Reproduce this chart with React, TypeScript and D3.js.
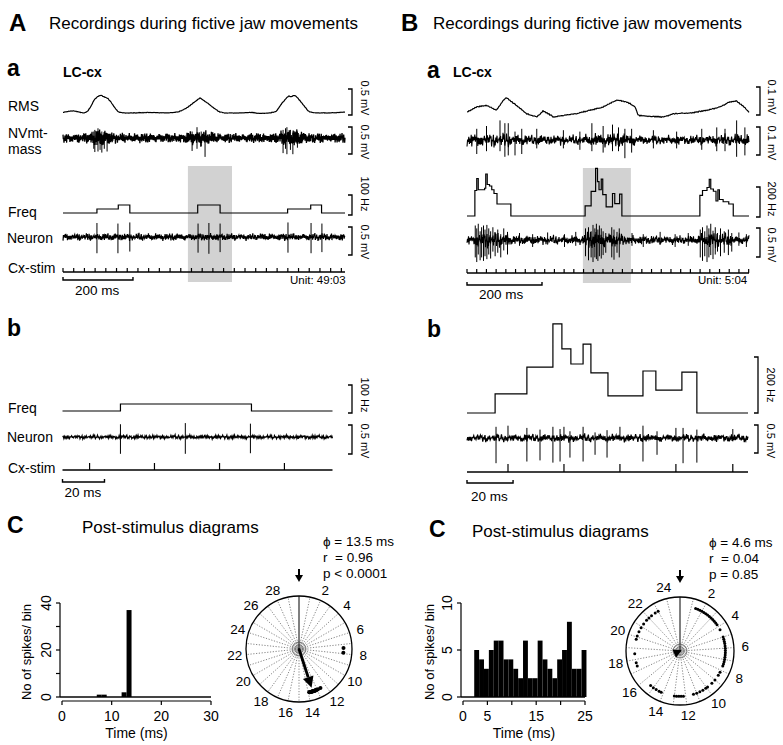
import React from 'react';
import * as d3 from 'd3';

const FONT = "'Liberation Sans', Arial, Helvetica, sans-serif";

type P = [number, number];
type Spike = [number, number, number]; // time (ms), top (mV), bottom (mV)

// ---------------- texture tables for recorded noise (hand-read amplitudes) ----------------
const noiseTableA = [0.8, -0.6, 0.3, -0.9, 0.5, -0.2, 0.95, -0.7, 0.1, -0.4, 0.7, -1, 0.35, -0.55, 0.6, -0.15, 0.9, -0.8, 0.2, -0.3, 0.75, -0.65, 0.45, -0.95, 0.05, -0.5, 0.85, -0.35, 0.55, -0.75, 0.25, -0.1, 1, -0.6, 0.4, -0.85, 0.15];
const noiseTableB = [0.3, 0.7, -0.5, -0.2, 0.9, -0.8, 0.1, 0.5, -0.6, -0.9, 0.4, 0.8, -0.3, 0.2, -0.7, 0.6, -0.1, -0.4, 0.95, -0.5, 0.3, -0.85, 0.55];

// ---------------- Panel A a (unit 49:03) ----------------
const aaDurationMs = 806;
const aaRms: P[] = [[0, 0.03], [15, 0.05], [30, 0.06], [45, 0.04], [60, 0.02], [70, 0.05], [80, 0.15], [90, 0.28], [100, 0.34], [108, 0.36], [118, 0.33], [128, 0.3], [138, 0.22], [148, 0.12], [158, 0.04], [175, 0.02], [200, 0.02], [250, 0.03], [300, 0.02], [330, 0.04], [350, 0.1], [370, 0.2], [385, 0.28], [392, 0.31], [400, 0.27], [415, 0.2], [430, 0.12], [445, 0.05], [460, 0.02], [500, 0.02], [540, 0.03], [560, 0.01], [590, 0.02], [610, 0.05], [625, 0.2], [638, 0.3], [645, 0.35], [652, 0.33], [660, 0.36], [668, 0.33], [678, 0.25], [690, 0.15], [702, 0.05], [720, 0.02], [760, 0.02], [790, 0.03], [806, 0.04]];
const aaNvEnv: P[] = [[0, 0.1], [60, 0.1], [75, 0.14], [95, 0.19], [120, 0.17], [150, 0.11], [170, 0.1], [340, 0.1], [360, 0.14], [390, 0.18], [420, 0.15], [450, 0.1], [600, 0.1], [620, 0.14], [650, 0.18], [680, 0.16], [700, 0.1], [806, 0.1]];
const aaNvSpikes: Spike[] = [[88, 0.12, -0.2], [91, 0.15, -0.26], [100, 0.18, -0.25], [106, 0.1, -0.22], [111, 0.12, -0.27], [118, 0.1, -0.2], [126, 0.08, -0.25], [369, 0.12, -0.24], [383, 0.2, -0.2], [395, 0.12, -0.15], [406, 0.1, -0.35], [629, 0.15, -0.28], [636, 0.18, -0.2], [640, 0.2, -0.3], [650, 0.15, -0.22], [657, 0.1, -0.3], [670, 0.12, -0.18]];
const aaFreq: P[] = [[0, 0], [97, 20], [158, 40], [191, 0], [385, 40], [449, 0], [642, 20], [708, 40], [739, 0], [806, 0]];
const aaNeuronEnv: P[] = [[0, 0.075], [806, 0.075]];
const aaNeuronSpikes: Spike[] = [[97, 0.25, -0.29], [157, 0.24, -0.29], [191, 0.26, -0.26], [386, 0.24, -0.28], [417, 0.25, -0.3], [449, 0.24, -0.27], [643, 0.26, -0.28], [709, 0.25, -0.29], [740, 0.24, -0.27]];
const aaStimPeriodMs = 30.6;
const aaShade: P = [357, 483];

// ---------------- Panel B a (unit 5:04) ----------------
const baDurationMs = 752;
const baRms: P[] = [[1, 0.018], [26, 0.036], [52, 0.042], [79, 0.024], [97, 0.06], [106, 0.069], [119, 0.054], [137, 0.036], [159, 0.012], [186, 0], [203, 0.021], [217, 0.012], [230, 0], [257, 0.006], [292, 0.012], [328, 0.024], [363, 0.036], [381, 0.048], [399, 0.06], [417, 0.057], [435, 0.048], [448, 0.036], [457, 0.006], [488, 0.002], [524, 0], [550, 0.012], [595, 0.014], [639, 0.024], [675, 0.036], [701, 0.054], [719, 0.057], [737, 0.038], [752, 0.018]];
const baNvEnv: P[] = [[0, 0.026], [40, 0.03], [110, 0.03], [160, 0.022], [300, 0.02], [330, 0.028], [440, 0.028], [470, 0.019], [600, 0.02], [700, 0.028], [752, 0.025]];
const baNvSpikes: Spike[] = [[26, 0.04, -0.05], [52, 0.05, -0.04], [88, 0.07, -0.04], [101, 0.06, -0.06], [110, 0.06, -0.055], [128, 0.03, -0.055], [146, 0.04, -0.05], [186, 0.04, -0.03], [257, 0.035, -0.03], [301, 0.03, -0.035], [333, 0.06, -0.04], [363, 0.05, -0.045], [388, 0.055, -0.04], [404, 0.045, -0.04], [421, 0.04, -0.065], [439, 0.04, -0.045], [497, 0.035, -0.03], [559, 0.03, -0.03], [626, 0.04, -0.035], [666, 0.045, -0.04], [688, 0.04, -0.04], [719, 0.07, -0.06], [741, 0.045, -0.055]];
const baFreq: P[] = [[0, 0], [21, 170], [26, 250], [30, 175], [47, 185], [50, 280], [54, 210], [60, 200], [66, 175], [72, 150], [80, 80], [117, 0], [315, 68], [331, 164], [343, 318], [348, 229], [352, 175], [358, 246], [362, 143], [371, 61], [388, 150], [394, 82], [407, 146], [413, 0], [621, 138], [628, 170], [640, 190], [646, 245], [650, 180], [657, 165], [664, 100], [669, 175], [673, 110], [683, 95], [698, 80], [710, 0], [752, 0]];
const baNeuronEnv: P[] = [[0, 0.09], [18, 0.09], [25, 0.17], [110, 0.15], [120, 0.09], [310, 0.09], [318, 0.17], [410, 0.15], [418, 0.09], [618, 0.09], [625, 0.16], [708, 0.14], [716, 0.09], [752, 0.09]];
const baNeuronSpikes: Spike[] = [
  [22, 0.25, -0.3], [26, 0.2, -0.38], [30, 0.28, -0.25], [35, 0.15, -0.35], [39, 0.22, -0.3], [44, 0.25, -0.36], [48, 0.18, -0.28], [53, 0.26, -0.33], [58, 0.2, -0.25], [63, 0.15, -0.32], [69, 0.22, -0.2], [75, 0.12, -0.28], [82, 0.18, -0.22], [90, 0.1, -0.3], [98, 0.2, -0.18], [108, 0.14, -0.25],
  [316, 0.2, -0.28], [324, 0.22, -0.35], [331, 0.15, -0.3], [336, 0.26, -0.38], [341, 0.2, -0.3], [345, 0.28, -0.33], [349, 0.18, -0.36], [353, 0.25, -0.28], [358, 0.2, -0.32], [363, 0.15, -0.26], [370, 0.12, -0.22], [386, 0.22, -0.3], [392, 0.18, -0.34], [400, 0.14, -0.22], [406, 0.2, -0.3],
  [622, 0.18, -0.3], [628, 0.22, -0.36], [634, 0.15, -0.28], [640, 0.25, -0.38], [645, 0.2, -0.3], [650, 0.28, -0.26], [656, 0.16, -0.33], [662, 0.22, -0.25], [668, 0.12, -0.2], [676, 0.2, -0.28], [686, 0.15, -0.22], [697, 0.18, -0.26], [706, 0.12, -0.2],
  [140, 0.12, -0.1], [175, 0.1, -0.12], [215, 0.13, -0.08], [260, 0.1, -0.12], [290, 0.14, -0.1], [440, 0.12, -0.1], [470, 0.1, -0.12], [515, 0.14, -0.08], [555, 0.1, -0.12], [590, 0.12, -0.1], [725, 0.13, -0.1], [745, 0.1, -0.12]];
const baStimPeriodMs = 25.9;
const baShade: P = [309, 437];

// ---------------- Panel A b (expanded) ----------------
const abDurationMs = 128.6;
const abFreq: P[] = [[0, 0], [27.6, 25], [90, 0], [128.6, 0]];
const abNeuronEnv: P[] = [[0, 0.04], [128.6, 0.04]];
const abNeuronSpikes: Spike[] = [[27.6, 0.22, -0.29], [58.5, 0.24, -0.29], [89.5, 0.23, -0.28]];
const abStimTimes = [12.9, 43.8, 74.8, 105.7];

// ---------------- Panel B b (expanded) ----------------
const bbDurationMs = 122;
const bbFreq: P[] = [[0, 0], [12.2, 68], [26, 164], [37.3, 318], [41.2, 229], [45.1, 175], [50.4, 246], [53.8, 143], [61.2, 61], [76.4, 150], [82, 82], [93.3, 146], [99.8, 0], [122, 0]];
const bbNeuronEnv: P[] = [[0, 0.085], [122, 0.085]];
const bbNeuronSpikes: Spike[] = [[12.6, 0.2, -0.45], [26, 0.18, -0.42], [31.7, 0.15, -0.4], [37.3, 0.2, -0.44], [40.4, 0.16, -0.42], [44.7, 0.12, -0.35], [50.4, 0.2, -0.42], [55.6, 0.1, -0.3], [60.8, 0.14, -0.35], [76.4, 0.22, -0.42], [82.5, 0.12, -0.3], [93.8, 0.18, -0.45], [99.8, 0.15, -0.44], [17.8, 0.22, -0.05], [42.1, 0.2, -0.05], [66.4, 0.2, -0.05], [90.7, 0.18, -0.05], [115.4, 0.16, -0.06]];
const bbStimTimes = [17.8, 42.1, 66.4, 90.7, 115.4];

// ---------------- Panel C: post-stimulus histograms & phase plots ----------------
const histAStartMs = 0;
const histACounts = [0, 0, 0, 0, 0, 0, 0, 1, 1, 0, 0, 0, 2, 37, 0, 0, 0, 0, 0, 0, 0, 0, 0, 0, 0, 0, 0, 0, 0, 0];
const histAYTicks = [0, 10, 20, 30, 40];
const histAYLabels = [0, 20, 40];
const histAXTicks = [0, 10, 20, 30];
const histBStartMs = 2.3;
const histBCounts = [5, 4, 3, 5, 6, 6, 4, 4, 3, 2, 6, 2, 2, 6, 4, 3, 2, 4, 5, 8, 3, 3, 5];
const histBYTicks = [0, 5, 10];
const histBXTicks = [0, 5, 10, 15, 20, 25];
const histBXLabels = [0, 5, 15, 25];
const polarAPeriod = 30;
const polarALabels = [2, 4, 6, 8, 10, 12, 14, 16, 18, 20, 22, 24, 26, 28];
const polarAPhi = 13.5;
const polarAR = 0.96;
const polarADots = [7.4, 7.9, 12.6, 12.9, 13.05, 13.1, 13.15, 13.2, 13.25, 13.3, 13.35, 13.4, 13.45, 13.5, 13.55, 13.6, 13.65, 13.7, 13.75, 13.8, 13.85, 13.9];
const statsA = ['ϕ = 13.5 ms', 'r  = 0.96', 'p < 0.0001'];
const polarBPeriod = 25;
const polarBLabels = [2, 4, 6, 8, 10, 12, 14, 16, 18, 20, 22, 24];
const polarBPhi = 4.6;
const polarBR = 0.04;
const polarBDots = [1.4, 1.6, 1.8, 2.0, 2.2, 2.4, 2.6, 2.8, 3.0, 3.2, 3.4, 3.6, 3.8, 4.3, 5.0, 5.2, 5.4, 5.6, 5.8, 6.0, 6.2, 6.4, 6.6, 6.8, 7.0, 7.2, 7.4, 7.6, 8.2, 8.5, 9.0, 9.4, 9.9, 10.1, 10.4, 10.7, 11.0, 11.3, 12.2, 12.4, 12.6, 12.8, 13.0, 14.2, 14.4, 14.7, 15.0, 15.3, 17.4, 17.7, 18.5, 19.8, 20.1, 20.5, 20.9, 21.3, 21.7, 22.0, 22.3, 22.7, 23.0];
const statsB = ['ϕ = 4.6 ms', 'r  = 0.04', 'p = 0.85'];

// ---------------- helpers ----------------
function interp(pts: P[], t: number): number {
  if (t <= pts[0][0]) return pts[0][1];
  for (let i = 1; i < pts.length; i++) {
    if (t <= pts[i][0]) {
      const [t0, v0] = pts[i - 1];
      const [t1, v1] = pts[i];
      return t1 === t0 ? v1 : v0 + ((v1 - v0) * (t - t0)) / (t1 - t0);
    }
  }
  return pts[pts.length - 1][1];
}
function texture(i: number) {
  return 0.65 * noiseTableA[i % noiseTableA.length] + 0.35 * noiseTableB[(i * 7) % noiseTableB.length];
}
type Lin = d3.ScaleLinear<number, number>;

function noisyPath(x: Lin, center: number, ppu: number, env: P[], stepPx: number, offset: number) {
  const [t0, t1] = x.domain();
  const n = Math.round((x(t1) - x(t0)) / stepPx);
  const pts: P[] = d3.range(n + 1).map((i) => {
    const t = t0 + ((t1 - t0) * i) / n;
    return [x(t), center - ppu * interp(env, t) * texture(i + offset)];
  });
  return d3.line()(pts) || '';
}
function smoothPath(x: Lin, zero: number, ppu: number, data: P[], jitterPx: number) {
  const [t0, t1] = x.domain();
  const n = Math.round(x(t1) - x(t0));
  const pts: P[] = d3.range(n + 1).map((i) => {
    const t = t0 + ((t1 - t0) * i) / n;
    return [x(t), zero - ppu * interp(data, t) + jitterPx * texture(i * 3 + 5)];
  });
  return d3.line().curve(d3.curveMonotoneX)(pts) || '';
}
function stepPath(x: Lin, zero: number, ppu: number, data: P[]) {
  return d3.line<P>().x((d) => x(d[0])).y((d) => zero - ppu * d[1]).curve(d3.curveStepAfter)(data) || '';
}

const Spikes = ({ x, center, ppu, spikes }: { x: Lin; center: number; ppu: number; spikes: Spike[] }) => (
  <g stroke="#000" strokeWidth={1}>
    {spikes.map((s, i) => (
      <line key={i} x1={x(s[0])} x2={x(s[0])} y1={center - ppu * s[1]} y2={center - ppu * s[2]} />
    ))}
  </g>
);

const ScaleBar = ({ x, top, bottom, label, tx, ty }: { x: number; top: number; bottom: number; label: string; tx: number; ty: number }) => (
  <g>
    <path d={`M${x - 4},${top}H${x}V${bottom}H${x - 4}`} fill="none" stroke="#000" strokeWidth={1.3} />
    <text transform={`translate(${tx},${ty}) rotate(90)`} textAnchor="middle" fontSize={11} fontFamily={FONT}>
      {label}
    </text>
  </g>
);

const Stim = ({ x, y, times, h }: { x: Lin; y: number; times: number[]; h: number }) => {
  const [a, b] = x.range();
  return (
    <g stroke="#000">
      <line x1={a} x2={b} y1={y} y2={y} strokeWidth={1.6} />
      {times.map((t, i) => (
        <line key={i} x1={x(t)} x2={x(t)} y1={y} y2={y - h} strokeWidth={1.2} />
      ))}
    </g>
  );
};

const TimeBar = ({ x, y, ms, label, tx, ty }: { x: Lin; y: number; ms: number; label: string; tx: number; ty: number }) => {
  const x0 = x.range()[0];
  const x1 = x0 + (x(ms) - x(0));
  return (
    <g>
      <path d={`M${x0},${y - 3}V${y}H${x1}V${y - 3}`} fill="none" stroke="#000" strokeWidth={1.4} />
      <text x={x0 + tx} y={ty} fontSize={13.5} fontFamily={FONT}>
        {label}
      </text>
    </g>
  );
};

const Label = ({ x, y, children, size = 14, bold = false }: any) => (
  <text x={x} y={y} fontSize={size} fontWeight={bold ? 'bold' : 'normal'} fontFamily={FONT} style={{ whiteSpace: 'pre' }}>
    {children}
  </text>
);

function Histogram({ x0, x1, yTop, yBottom, xMax, yMax, start, counts, yTicks, yLabels, xTicks, xLabels, yLabelX }: any) {
  const x = d3.scaleLinear().domain([0, xMax]).range([x0, x1]);
  const y = d3.scaleLinear().domain([0, yMax]).range([yBottom, yTop]);
  const axisX = x0 - 2;
  return (
    <g fontFamily={FONT}>
      <line x1={axisX} x2={x1} y1={yBottom} y2={yBottom} stroke="#444" strokeWidth={2} />
      {counts.map((c: number, i: number) =>
        c > 0 ? <rect key={i} x={x(start + i)} width={x(start + i + 1) - x(start + i)} y={y(c)} height={yBottom - y(c)} fill="#000" /> : null
      )}
      <line x1={axisX} x2={axisX} y1={yTop} y2={yBottom} stroke="#000" strokeWidth={1.2} />
      {yTicks.map((t: number) => (
        <line key={t} x1={axisX - 4} x2={axisX} y1={y(t)} y2={y(t)} stroke="#000" strokeWidth={1.2} />
      ))}
      {yLabels.map((t: number) => (
        <text key={t} transform={`translate(${axisX - 9},${y(t)}) rotate(-90)`} textAnchor="middle" fontSize={14}>
          {t}
        </text>
      ))}
      <line x1={x0} x2={x1} y1={yBottom + 4} y2={yBottom + 4} stroke="#000" strokeWidth={1.2} />
      {xTicks.map((t: number) => (
        <line key={t} x1={x(t)} x2={x(t)} y1={yBottom + 4} y2={yBottom + 8} stroke="#000" strokeWidth={1.2} />
      ))}
      {xLabels.map((t: number) => (
        <text key={t} x={x(t)} y={yBottom + 24} textAnchor="middle" fontSize={14}>
          {t}
        </text>
      ))}
      <text x={(x0 + x1) / 2} y={yBottom + 41} textAnchor="middle" fontSize={14}>
        Time (ms)
      </text>
      <text transform={`translate(${yLabelX},${(yTop + yBottom) / 2 + 2}) rotate(-90)`} textAnchor="middle" fontSize={13}>
        No of spikes/ bin
      </text>
    </g>
  );
}

function Polar({ cx, cy, R, period, labels, phi, r, dots, stats, statsX }: any) {
  const ang = d3.scaleLinear().domain([0, period]).range([0, 2 * Math.PI]);
  const pt = (t: number, rad: number): P => [cx + rad * Math.sin(ang(t)), cy - rad * Math.cos(ang(t))];
  const tipLen = Math.max(r * 0.8 * R, 1.5);
  const a = ang(phi);
  const ux = Math.sin(a), uy = -Math.cos(a);
  const tip: P = [cx + ux * tipLen, cy + uy * tipLen];
  const headL = r > 0.2 ? 11 : 8, headW = r > 0.2 ? 5.5 : 4.5;
  const base: P = [tip[0] - ux * headL, tip[1] - uy * headL];
  const head = `M${tip[0]},${tip[1]}L${base[0] - uy * headW},${base[1] + ux * headW}L${base[0] + uy * headW},${base[1] - ux * headW}Z`;
  return (
    <g fontFamily={FONT}>
      {d3.range(1, period).map((t: number) => {
        const [px, py] = pt(t, R);
        return <line key={t} x1={cx} y1={cy} x2={px} y2={py} stroke="#333" strokeWidth={0.6} strokeDasharray="1.2,1.6" />;
      })}
      <line x1={cx} y1={cy} x2={cx} y2={cy - R} stroke="#000" strokeWidth={1} />
      {[2, 4.5, 7].map((rr) => (
        <circle key={rr} cx={cx} cy={cy} r={rr} fill="none" stroke="#333" strokeWidth={0.6} />
      ))}
      <circle cx={cx} cy={cy} r={R} fill="none" stroke="#000" strokeWidth={1.3} />
      {dots.map((t: number, i: number) => {
        const [px, py] = pt(t, R * 0.84);
        return <circle key={i} cx={px} cy={py} r={r > 0.2 ? 2 : 1.5} fill="#000" />;
      })}
      {r > 0.2 ? <line x1={cx} y1={cy} x2={base[0]} y2={base[1]} stroke="#000" strokeWidth={2.8} /> : null}
      <path d={head} fill="#000" />
      <line x1={cx} x2={cx} y1={cy - R - 27} y2={cy - R - 20} stroke="#000" strokeWidth={2} />
      <path d={`M${cx - 4},${cy - R - 21}L${cx + 4},${cy - R - 21}L${cx},${cy - R - 14}Z`} fill="#000" />
      {labels.map((t: number) => {
        const [px, py] = pt(t, R + 11.5);
        return (
          <text key={t} x={px} y={py} textAnchor="middle" dominantBaseline="central" fontSize={13.5}>
            {t}
          </text>
        );
      })}
      {stats.map((s: string, i: number) => (
        <text key={i} x={statsX} y={cy - R - 50 + i * 16} fontSize={13.5} style={{ whiteSpace: 'pre' }}>
          {s}
        </text>
      ))}
    </g>
  );
}

export default function App() {
  const xAa = d3.scaleLinear().domain([0, aaDurationMs]).range([63, 345]);
  const xBa = d3.scaleLinear().domain([0, baDurationMs]).range([467, 749]);
  const xAb = d3.scaleLinear().domain([0, abDurationMs]).range([62.5, 332.5]);
  const xBb = d3.scaleLinear().domain([0, bbDurationMs]).range([467, 748]);

  const stimAa = d3.range(0, aaDurationMs, aaStimPeriodMs);
  const stimBa = d3.range(0, baDurationMs + 1, baStimPeriodMs);

  return (
    <svg width={783} height={745} viewBox="0 0 783 745" style={{ position: 'absolute', left: 0, top: 0, background: '#fff' }} fontFamily={FONT}>
      <rect width={783} height={745} fill="#fff" />

      {/* shading */}
      <rect x={xAa(aaShade[0])} width={xAa(aaShade[1]) - xAa(aaShade[0])} y={166} height={116} fill="#d2d2d2" />
      <rect x={xBa(baShade[0])} width={xBa(baShade[1]) - xBa(baShade[0])} y={168} height={115} fill="#d2d2d2" />

      {/* headers */}
      <Label x={9} y={31} size={24} bold>A</Label>
      <Label x={49} y={29} size={17}>Recordings during fictive jaw movements</Label>
      <Label x={401} y={31} size={24} bold>B</Label>
      <Label x={433} y={29} size={17}>Recordings during fictive jaw movements</Label>

      {/* ===== A a ===== */}
      <Label x={7} y={76} size={23} bold>a</Label>
      <Label x={63} y={77} size={14} bold>LC-cx</Label>
      <Label x={8} y={111} size={14}>RMS</Label>
      <Label x={8} y={138} size={14}>NVmt-</Label>
      <Label x={8} y={154} size={14}>mass</Label>
      <Label x={8} y={217} size={14}>Freq</Label>
      <Label x={7} y={243} size={14}>Neuron</Label>
      <Label x={8} y={273} size={14}>Cx-stim</Label>

      <path d={smoothPath(xAa, 114, 52, aaRms, 0.35)} fill="none" stroke="#000" strokeWidth={1.2} />
      <path d={noisyPath(xAa, 138, 54, aaNvEnv, 0.33, 0)} fill="none" stroke="#000" strokeWidth={1.3} />
      <Spikes x={xAa} center={138} ppu={54} spikes={aaNvSpikes} />
      <path d={stepPath(xAa, 213, 0.2, aaFreq)} fill="none" stroke="#000" strokeWidth={1.2} />
      <path d={noisyPath(xAa, 237, 56, aaNeuronEnv, 0.45, 11)} fill="none" stroke="#000" strokeWidth={1.2} />
      <Spikes x={xAa} center={237} ppu={56} spikes={aaNeuronSpikes} />
      <Stim x={xAa} y={272} times={stimAa} h={4} />
      <TimeBar x={xAa} y={280} ms={200} label="200 ms" tx={12} ty={295} />
      <Label x={290} y={284} size={11.5}>Unit: 49:03</Label>

      <ScaleBar x={352} top={89} bottom={115} label="0.5 mV" tx={361} ty={98} />
      <ScaleBar x={352} top={127} bottom={154} label="0.5 mV" tx={361} ty={142} />
      <ScaleBar x={352} top={195} bottom={215} label="100 Hz" tx={361} ty={194} />
      <ScaleBar x={352} top={227} bottom={255} label="0.5 mV" tx={361} ty={242} />

      {/* ===== B a ===== */}
      <Label x={427} y={78} size={23} bold>a</Label>
      <Label x={453} y={77} size={14} bold>LC-cx</Label>
      <path d={smoothPath(xBa, 117, 280, baRms, 0.7)} fill="none" stroke="#000" strokeWidth={1.2} />
      <path d={noisyPath(xBa, 140, 280, baNvEnv, 0.6, 3)} fill="none" stroke="#000" strokeWidth={1.1} />
      <Spikes x={xBa} center={140} ppu={280} spikes={baNvSpikes} />
      <path d={stepPath(xBa, 216, 0.15, baFreq)} fill="none" stroke="#000" strokeWidth={1.2} />
      <path d={noisyPath(xBa, 240, 58, baNeuronEnv, 0.5, 7)} fill="none" stroke="#000" strokeWidth={1.1} />
      <Spikes x={xBa} center={240} ppu={58} spikes={baNeuronSpikes} />
      <Stim x={xBa} y={273} times={stimBa} h={4} />
      <TimeBar x={xBa} y={285} ms={200} label="200 ms" tx={12} ty={299} />
      <Label x={698} y={284} size={11.5}>Unit: 5:04</Label>

      <ScaleBar x={760} top={87} bottom={115} label="0.1 mV" tx={768} ty={97} />
      <ScaleBar x={760} top={127} bottom={155} label="0.1 mV" tx={768} ty={143} />
      <ScaleBar x={760} top={187} bottom={217} label="200 Hz" tx={768} ty={199} />
      <ScaleBar x={760} top={228} bottom={257} label="0.5 mV" tx={768} ty={245} />

      {/* ===== A b ===== */}
      <Label x={7} y={336} size={23} bold>b</Label>
      <Label x={8} y={413} size={14}>Freq</Label>
      <Label x={7} y={442} size={14}>Neuron</Label>
      <Label x={8} y={473} size={14}>Cx-stim</Label>
      <path d={stepPath(xAb, 411, 0.28, abFreq)} fill="none" stroke="#000" strokeWidth={1.2} />
      <path d={noisyPath(xAb, 437, 58, abNeuronEnv, 0.7, 19)} fill="none" stroke="#000" strokeWidth={1.2} />
      <Spikes x={xAb} center={437} ppu={58} spikes={abNeuronSpikes} />
      <Stim x={xAb} y={470} times={abStimTimes} h={7} />
      <TimeBar x={xAb} y={482} ms={20} label="20 ms" tx={2} ty={497} />
      <ScaleBar x={352} top={385} bottom={413} label="100 Hz" tx={361} ty={395} />
      <ScaleBar x={352} top={425} bottom={454} label="0.5 mV" tx={361} ty={441} />

      {/* ===== B b ===== */}
      <Label x={427} y={337} size={23} bold>b</Label>
      <path d={stepPath(xBb, 413, 0.28, bbFreq)} fill="none" stroke="#000" strokeWidth={1.2} />
      <path d={noisyPath(xBb, 438, 56, bbNeuronEnv, 0.75, 23)} fill="none" stroke="#000" strokeWidth={1.2} />
      <Spikes x={xBb} center={438} ppu={56} spikes={bbNeuronSpikes} />
      <Stim x={xBb} y={472} times={bbStimTimes} h={8} />
      <TimeBar x={xBb} y={483} ms={20} label="20 ms" tx={4} ty={501} />
      <ScaleBar x={758} top={357} bottom={413} label="200 Hz" tx={767} ty={385} />
      <ScaleBar x={758} top={425} bottom={453} label="0.5 mV" tx={767} ty={441} />

      {/* ===== C ===== */}
      <Label x={7} y={533} size={23} bold>C</Label>
      <Label x={82} y={533} size={17}>Post-stimulus diagrams</Label>
      <Label x={429} y={537} size={23} bold>C</Label>
      <Label x={472} y={537} size={17}>Post-stimulus diagrams</Label>

      <Histogram x0={62} x1={211} yTop={603} yBottom={697} xMax={30} yMax={40} start={histAStartMs} counts={histACounts}
        yTicks={histAYTicks} yLabels={histAYLabels} xTicks={histAXTicks} xLabels={histAXTicks} yLabelX={31} />
      <Histogram x0={463} x1={585} yTop={603} yBottom={697} xMax={25} yMax={10} start={histBStartMs} counts={histBCounts}
        yTicks={histBYTicks} yLabels={histBYTicks} xTicks={histBXTicks} xLabels={histBXLabels} yLabelX={434} />

      <Polar cx={299} cy={649} R={53} period={polarAPeriod} labels={polarALabels} phi={polarAPhi} r={polarAR}
        dots={polarADots} stats={statsA} statsX={323} />
      <Polar cx={680} cy={651} R={54} period={polarBPeriod} labels={polarBLabels} phi={polarBPhi} r={polarBR}
        dots={polarBDots} stats={statsB} statsX={709} />
    </svg>
  );
}
